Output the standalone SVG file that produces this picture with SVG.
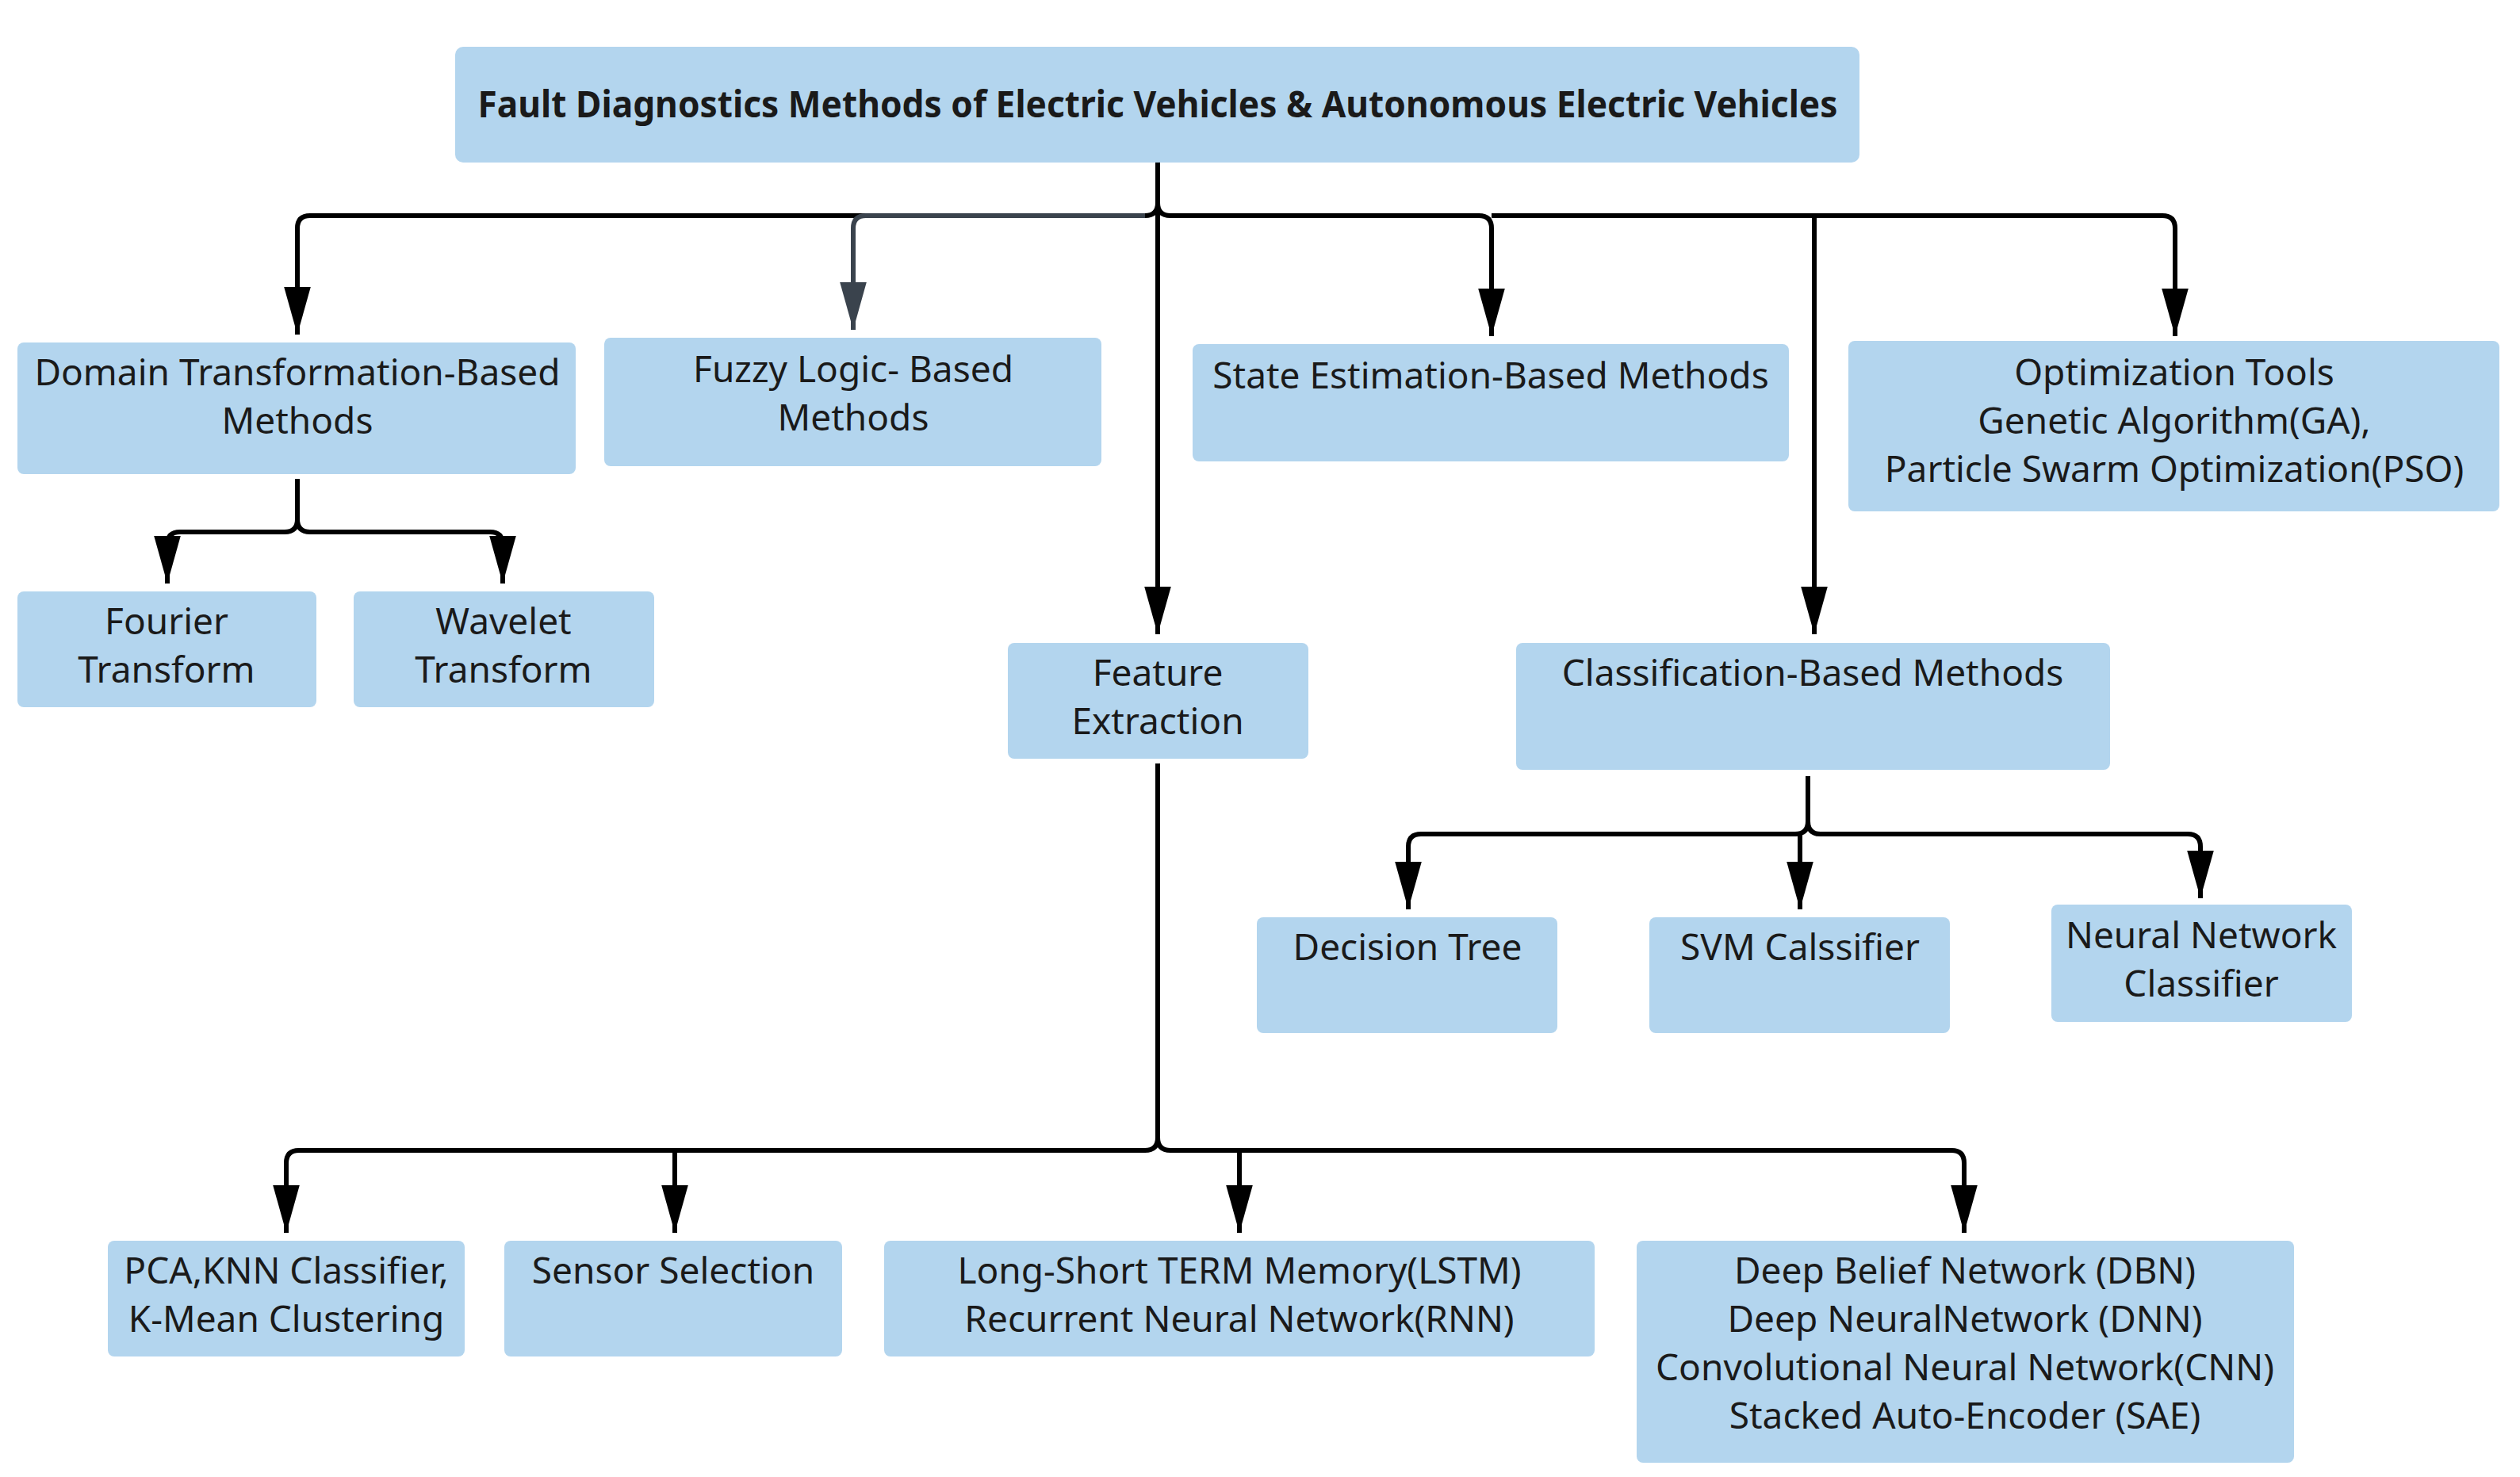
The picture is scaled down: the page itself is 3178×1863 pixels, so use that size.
<svg xmlns="http://www.w3.org/2000/svg" width="3178" height="1863" viewBox="0 0 3178 1863">
<style>
.n{fill:#b3d5ee;}
.t{font-family:"Noto Sans","DejaVu Sans",sans-serif;font-size:46px;fill:#1a1a1a;text-anchor:middle;}
.c{fill:none;stroke:#000;stroke-width:6;stroke-linejoin:round;}
</style>
<defs>
<marker id="a" markerUnits="userSpaceOnUse" markerWidth="60" markerHeight="40" viewBox="0 -16 50 32" refX="50" refY="0" orient="auto"><path d="M0,-14 L50,0 L0,14 z" fill="#000"/></marker>
<marker id="g" markerUnits="userSpaceOnUse" markerWidth="60" markerHeight="40" viewBox="0 -16 50 32" refX="50" refY="0" orient="auto"><path d="M0,-14 L50,0 L0,14 z" fill="#3a434d"/></marker>
</defs>
<rect width="3178" height="1863" fill="#fff"/>
<g id="connectors">
<path class="c" d="M1460,205 V256 Q1460,272 1444,272 H391 Q375,272 375,288 V422" marker-end="url(#a)"/>
<path d="M1444,272 H1092 Q1076,272 1076,288 V416" fill="none" stroke="#3a434d" stroke-width="6" marker-end="url(#g)"/>
<path class="c" d="M1460,256 Q1460,272 1476,272 H1865 Q1881,272 1881,288 V424" marker-end="url(#a)"/>
<path class="c" d="M1881,272 H2727 Q2743,272 2743,288 V424" marker-end="url(#a)"/>
<path class="c" d="M1460,256 V800" marker-end="url(#a)"/>
<path class="c" d="M2288,272 V800" marker-end="url(#a)"/>
<path class="c" d="M375,604 V655 Q375,671 359,671 H227 Q211,671 211,687 V736" marker-end="url(#a)"/>
<path class="c" d="M375,655 Q375,671 391,671 H618 Q634,671 634,687 V736" marker-end="url(#a)"/>
<path class="c" d="M1460,963 V1435 Q1460,1451 1444,1451 H377 Q361,1451 361,1467 V1555" marker-end="url(#a)"/>
<path class="c" d="M851,1451 V1555" marker-end="url(#a)"/>
<path class="c" d="M1460,1435 Q1460,1451 1476,1451 H2461 Q2477,1451 2477,1467 V1555" marker-end="url(#a)"/>
<path class="c" d="M1563,1451 V1555" marker-end="url(#a)"/>
<path class="c" d="M2280,979 V1036 Q2280,1052 2264,1052 H1792 Q1776,1052 1776,1068 V1147" marker-end="url(#a)"/>
<path class="c" d="M2280,1036 Q2280,1052 2296,1052 H2759 Q2775,1052 2775,1068 V1133" marker-end="url(#a)"/>
<path class="c" d="M2270,1052 V1147" marker-end="url(#a)"/>
</g>
<g id="root"><rect class="n" x="574" y="59" width="1771" height="146" rx="10"/><text class="t" x="1460" y="148" font-weight="bold" font-size="42" textLength="1715" lengthAdjust="spacingAndGlyphs">Fault Diagnostics Methods of Electric Vehicles &amp; Autonomous Electric Vehicles</text></g>
<g id="domain"><rect class="n" x="22" y="432" width="704" height="166" rx="8"/><text class="t" x="375" y="486">Domain Transformation-Based</text><text class="t" x="375" y="547">Methods</text></g>
<g id="fuzzy"><rect class="n" x="762" y="426" width="627" height="162" rx="8"/><text class="t" x="1076" y="482">Fuzzy Logic- Based</text><text class="t" x="1076" y="543">Methods</text></g>
<g id="state"><rect class="n" x="1504" y="434" width="752" height="148" rx="8"/><text class="t" x="1880" y="490">State Estimation-Based Methods</text></g>
<g id="opt"><rect class="n" x="2331" y="430" width="821" height="215" rx="8"/><text class="t" x="2742" y="486">Optimization Tools</text><text class="t" x="2742" y="547">Genetic Algorithm(GA),</text><text class="t" x="2742" y="608">Particle Swarm Optimization(PSO)</text></g>
<g id="fourier"><rect class="n" x="22" y="746" width="377" height="146" rx="8"/><text class="t" x="210" y="800">Fourier</text><text class="t" x="210" y="861">Transform</text></g>
<g id="wavelet"><rect class="n" x="446" y="746" width="379" height="146" rx="8"/><text class="t" x="635" y="800">Wavelet</text><text class="t" x="635" y="861">Transform</text></g>
<g id="feature"><rect class="n" x="1271" y="811" width="379" height="146" rx="8"/><text class="t" x="1460" y="865">Feature</text><text class="t" x="1460" y="926">Extraction</text></g>
<g id="classification"><rect class="n" x="1912" y="811" width="749" height="160" rx="8"/><text class="t" x="2286" y="865">Classification-Based Methods</text></g>
<g id="decision"><rect class="n" x="1585" y="1157" width="379" height="146" rx="8"/><text class="t" x="1775" y="1211">Decision Tree</text></g>
<g id="svm"><rect class="n" x="2080" y="1157" width="379" height="146" rx="8"/><text class="t" x="2270" y="1211">SVM Calssifier</text></g>
<g id="neural"><rect class="n" x="2587" y="1141" width="379" height="148" rx="8"/><text class="t" x="2776" y="1196">Neural Network</text><text class="t" x="2776" y="1257">Classifier</text></g>
<g id="pca"><rect class="n" x="136" y="1565" width="450" height="146" rx="8"/><text class="t" x="361" y="1619">PCA,KNN Classifier,</text><text class="t" x="361" y="1680">K-Mean Clustering</text></g>
<g id="sensor"><rect class="n" x="636" y="1565" width="426" height="146" rx="8"/><text class="t" x="849" y="1619">Sensor Selection</text></g>
<g id="lstm"><rect class="n" x="1115" y="1565" width="896" height="146" rx="8"/><text class="t" x="1563" y="1619">Long-Short TERM Memory(LSTM)</text><text class="t" x="1563" y="1680">Recurrent Neural Network(RNN)</text></g>
<g id="dbn"><rect class="n" x="2064" y="1565" width="829" height="280" rx="8"/><text class="t" x="2478" y="1619">Deep Belief Network (DBN)</text><text class="t" x="2478" y="1680">Deep NeuralNetwork (DNN)</text><text class="t" x="2478" y="1741">Convolutional Neural Network(CNN)</text><text class="t" x="2478" y="1802">Stacked Auto-Encoder (SAE)</text></g>
</svg>
